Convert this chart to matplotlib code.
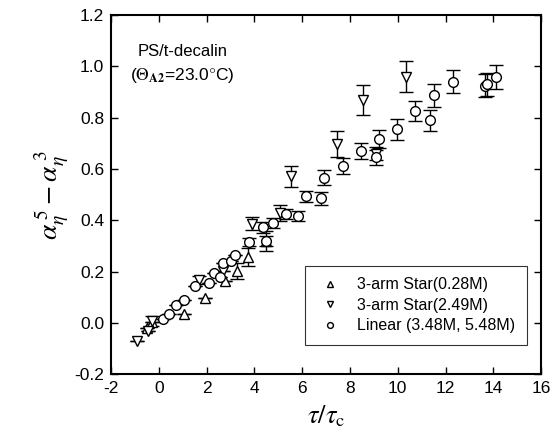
import numpy as np
import matplotlib; matplotlib.use('Agg')
import matplotlib.pyplot as plt

plt.rcParams['font.family'] = ['Liberation Sans', 'DejaVu Sans']
plt.rcParams['mathtext.fontset'] = 'stix'
plt.rcParams['axes.unicode_minus'] = False

# 3-arm star 0.28M (triangle up)
star1_x = [-0.5, -0.3, 1.05, 1.95, 2.77, 3.26, 3.72, 4.5]
star1_y = [-0.02, 0.005, 0.034, 0.096, 0.164, 0.203, 0.257, 0.32]
star1_e = [0.0, 0.0, 0.0, 0.0, 0.0, 0.03, 0.035, 0.04]

# 3-arm star 2.49M (triangle down)
star2_x = [-0.9, -0.45, -0.3, 1.69, 2.69, 3.92, 5.06, 5.52, 7.46, 8.55, 9.1, 10.36]
star2_y = [-0.07, -0.031, 0.008, 0.168, 0.203, 0.387, 0.428, 0.571, 0.697, 0.87, 0.66, 0.96]
star2_e = [0.0, 0.0, 0.02, 0.015, 0.0, 0.025, 0.03, 0.04, 0.05, 0.058, 0.025, 0.06]

# Linear 3.48M, 5.48M (circle)
lin_x = [0.17, 0.42, 0.74, 1.05, 1.52, 2.09, 2.29, 2.55, 2.69, 3.04, 3.19, 3.78, 4.48, 4.35,
         4.78, 5.34, 5.83, 6.18, 6.77, 6.92, 7.69, 8.47, 9.07, 9.21, 9.97, 10.74, 11.37,
         11.51, 12.3, 13.64, 13.74, 14.13]
lin_y = [0.016, 0.035, 0.069, 0.089, 0.143, 0.156, 0.195, 0.18, 0.234, 0.242, 0.265, 0.315,
         0.32, 0.372, 0.39, 0.424, 0.417, 0.493, 0.486, 0.566, 0.612, 0.671, 0.645, 0.716,
         0.755, 0.827, 0.79, 0.888, 0.941, 0.924, 0.93, 0.96]
lin_e = [0, 0, 0, 0, 0, 0, 0, 0, 0, 0, 0, 0.015, 0.02, 0.02, 0.02, 0.02, 0.02, 0.02, 0.025,
         0.03, 0.03, 0.03, 0.03, 0.035, 0.04, 0.04, 0.04, 0.045, 0.046, 0.045, 0.045, 0.047]

fig = plt.figure(figsize=(5.55, 4.47), dpi=100)
ax = fig.add_axes([0.2, 0.163, 0.775, 0.803])

eb = dict(fmt='none', ecolor='black', elinewidth=1.0, capsize=5, capthick=1.0)
ax.errorbar(star1_x, star1_y, yerr=star1_e, **eb)
ax.errorbar(star2_x, star2_y, yerr=star2_e, **eb)
ax.errorbar(lin_x, lin_y, yerr=lin_e, **eb)
mk = dict(linestyle='none', mfc='white', mec='black', mew=1.0, ms=7)
ax.plot(star1_x, star1_y, marker='^', label='3-arm Star(0.28M)', **mk)
ax.plot(star2_x, star2_y, marker='v', label='3-arm Star(2.49M)', **mk)
ax.plot(lin_x, lin_y, marker='o', label='Linear (3.48M, 5.48M)', **mk)

ax.set_xlim(-2, 16)
ax.set_ylim(-0.2, 1.2)
ax.set_xticks(np.arange(-2, 17, 2))
ax.set_yticks(np.arange(-0.2, 1.21, 0.2))
ax.set_yticklabels([f'{v:.1f}' for v in np.arange(-0.2, 1.21, 0.2)])
ax.tick_params(direction='in', top=True, right=True, labelsize=12.5, length=5, width=1, pad=5)
for s in ax.spines.values():
    s.set_linewidth(1.5)

ax.set_xlabel(r'$\tau/\tau_{\mathrm{c}}$', fontsize=19, labelpad=5)
ax.set_ylabel(r'$\alpha_{\eta}^{\;5}-\alpha_{\eta}^{\;3}$', fontsize=20, labelpad=2)

ax.text(0.063, 0.885, 'PS/t-decalin', transform=ax.transAxes, fontsize=12)
ax.text(0.045, 0.82, r'($\Theta_{\mathbf{A2}}$=23.0$\degree$C)', transform=ax.transAxes, fontsize=12.5)

leg = ax.legend(loc='lower right', fontsize=11.5, markerscale=0.6, frameon=True, fancybox=False,
                edgecolor='black', handlelength=1.8, labelspacing=0.35, borderpad=0.7,
                bbox_to_anchor=(0.985, 0.06))
leg.get_frame().set_linewidth(0.8)

fig.savefig('out.png', dpi=100)
